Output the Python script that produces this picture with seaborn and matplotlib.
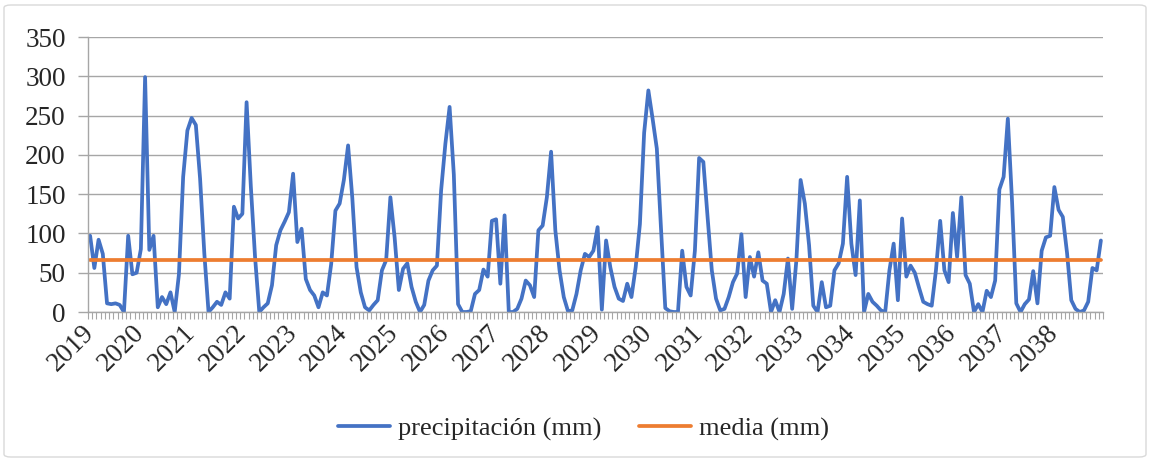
import numpy as np
import pandas as pd
import matplotlib
matplotlib.use("Agg")
import matplotlib.pyplot as plt
from matplotlib.patches import FancyBboxPatch
import seaborn as sns

# monthly precipitation 2019-2038
precip_2019_2023 = [97, 56, 92, 74, 11, 10, 11, 9, 0, 97, 48, 50,
                    80, 299, 79, 97, 6, 19, 10, 25, 0, 48, 172, 231,
                    247, 238, 170, 75, 0, 6, 13, 9, 25, 17, 134, 119,
                    125, 267, 160, 70, 0, 6, 11, 34, 85, 104, 115, 127,
                    176, 89, 106, 42, 28, 21, 6, 25, 21, 61, 129, 138]
precip_2024_2028 = [168, 212, 145, 57, 25, 6, 2, 9, 15, 53, 66, 146,
                    95, 28, 55, 62, 32, 13, 0, 9, 40, 53, 59, 155,
                    214, 261, 175, 10, 0, 0, 1, 23, 28, 54, 45, 116,
                    118, 36, 123, 0, 0, 4, 17, 40, 34, 19, 104, 110,
                    146, 204, 104, 53, 19, 1, 2, 23, 53, 74, 70, 78]
precip_2029_2033 = [108, 3, 91, 57, 32, 17, 14, 36, 19, 57, 112, 228,
                    282, 246, 208, 105, 5, 1, 0, 0, 78, 32, 21, 78,
                    196, 191, 121, 53, 17, 2, 4, 19, 38, 49, 99, 19,
                    70, 45, 76, 40, 36, 0, 15, 0, 23, 68, 4, 66,
                    168, 138, 85, 8, 0, 38, 6, 8, 53, 62, 87, 172]
precip_2034_2038 = [87, 47, 142, 0, 23, 13, 8, 2, 0, 53, 87, 15,
                    119, 45, 59, 50, 31, 13, 10, 8, 53, 116, 53, 38,
                    126, 70, 146, 47, 36, 0, 10, 0, 27, 19, 40, 156,
                    172, 246, 140, 11, 0, 10, 16, 52, 11, 78, 95, 97,
                    159, 130, 121, 75, 15, 4, 0, 2, 13, 56, 53, 91]
media_mm = 65.8
years = [str(y) for y in range(2019, 2039)]

precip = precip_2019_2023 + precip_2024_2028 + precip_2029_2033 + precip_2034_2038
n = len(precip)
months = np.arange(n)

df = pd.DataFrame({
    "mes": np.concatenate([months, months]),
    "valor": precip + [media_mm] * n,
    "serie": ["precipitación (mm)"] * n + ["media (mm)"] * n,
})

sns.set_style("white")
plt.rcParams["font.family"] = ["Liberation Serif", "DejaVu Serif"]

fig = plt.figure(figsize=(11.51, 4.61), dpi=100)
ax = fig.add_axes([88 / 1151, 1 - 312 / 461, (1103 - 88) / 1151, (312 - 37) / 461])

sns.lineplot(data=df, x="mes", y="valor", hue="serie",
             palette=["#4472C4", "#ED7D31"], linewidth=2.7, ax=ax)

handles, labels = ax.get_legend_handles_labels()
ax.get_legend().remove()

ax.set_xlim(-0.5, n - 0.5)
ax.set_ylim(0, 350)
ax.set_yticks(range(0, 351, 50))
ax.yaxis.grid(True, color="#A6A6A6", linewidth=1.0)
ax.set_axisbelow(True)
ax.set_xlabel("")
ax.set_ylabel("")

ax.set_xticks(np.arange(0, n, 12))
ax.set_xticklabels(years, rotation=45, ha="right", va="center",
                   rotation_mode="anchor")
ax.set_xticks(np.arange(-0.5, n, 1), minor=True)
ax.tick_params(axis="x", which="major", length=0, pad=12, labelsize=19.5)
ax.tick_params(axis="x", which="minor", length=5, width=0.8,
               color="#A6A6A6", direction="out", bottom=True)
ax.tick_params(axis="y", length=7, width=1, color="#A6A6A6",
               direction="out", left=True, labelsize=19.5, pad=9)

for side in ["top", "right"]:
    ax.spines[side].set_visible(False)
for side in ["left", "bottom"]:
    ax.spines[side].set_color("#A6A6A6")
    ax.spines[side].set_linewidth(1.0)

leg = fig.legend(handles, labels, loc="center", bbox_to_anchor=(0.507, 0.07),
                 ncol=2, frameon=False, fontsize=19, handlelength=2.0,
                 handletextpad=0.3, columnspacing=1.4)
for line in leg.get_lines():
    line.set_linewidth(2.7)

border = FancyBboxPatch((4 / 1151, 4 / 461), 1142 / 1151, 452 / 461,
                        boxstyle="round,pad=0,rounding_size=0.006",
                        transform=fig.transFigure, fill=False,
                        edgecolor="#D9D9D9", linewidth=1.0)
fig.patches.append(border)

fig.savefig("out.png", dpi=100)
